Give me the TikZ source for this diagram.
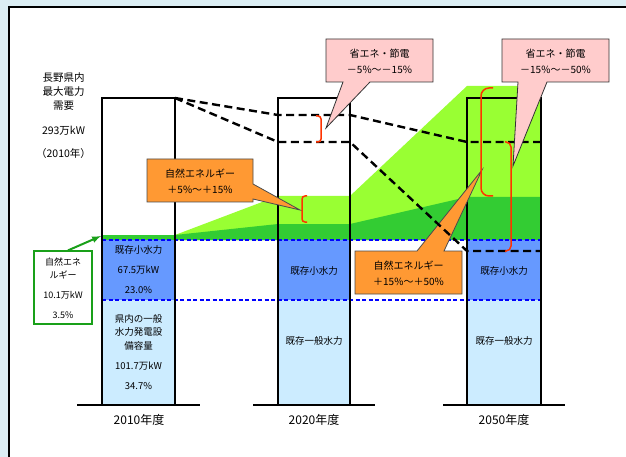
\documentclass[tikz,border=0pt]{standalone}
\usepackage{fontspec}
\setmainfont{Noto Sans CJK JP}
\usepackage{tikz}
\usetikzlibrary{arrows,positioning}
\definecolor{hybg}{RGB}{220,238,244}
\definecolor{hylightgreen}{RGB}{153,255,51}
\definecolor{hygreen}{RGB}{51,204,51}
\definecolor{hyline}{RGB}{25,160,25}
\definecolor{hyblue}{RGB}{102,153,255}
\definecolor{hylightblue}{RGB}{204,236,255}
\definecolor{hyorange}{RGB}{255,153,51}
\definecolor{hypink}{RGB}{255,204,204}
\definecolor{hyred}{RGB}{255,51,0}
\tikzstyle{bar} = [draw=black, line width=1.5pt]
\tikzstyle{groundline} = [line width=1.8pt]
\tikzstyle{bluedash} = [blue, line width=1.4pt, dash pattern=on 4pt off 2.5pt]
\tikzstyle{demand} = [line width=2.4pt, dash pattern=on 8pt off 4.5pt]
\tikzstyle{bracket} = [hyred, line width=1.5pt, rounded corners=3pt]
\tikzstyle{callpink} = [fill=hypink, draw=black!80, line width=0.8pt]
\tikzstyle{callorange} = [fill=hyorange, draw=black!70, line width=0.8pt]
\tikzstyle{txt} = [font=\fontsize{9.5}{13.5}\selectfont, text=black, align=center, inner sep=0pt]
\tikzstyle{calltxt} = [font=\fontsize{10}{16}\selectfont, text=black, align=center, inner sep=0pt]
\tikzstyle{year} = [font=\fontsize{12}{14}\selectfont, text=black]

\begin{document}
\begin{tikzpicture}[x=1pt, y=-1pt]
\useasboundingbox (0,0) rectangle (626,457);
% Background and panel
\fill[hybg] (0,0) rectangle (626,457);
\draw[fill=white, line width=1.2pt] (9,7) rectangle (640,470);

% Natural energy growth
\fill[hylightgreen] (175,235) -- (278,196) -- (350,196) -- (467,86) -- (541,86) -- (541,240) -- (175,240) -- cycle;
\fill[hygreen] (175,235) -- (278,224) -- (350,224) -- (467,197) -- (541,197) -- (541,240) -- (175,240) -- cycle;

% Bar fills
\fill[hygreen] (102,235) rectangle (175,240);
\fill[hyblue] (102,240) rectangle (175,300);
\fill[hylightblue] (102,300) rectangle (175,405);
\fill[hyblue] (278,240) rectangle (350,300);
\fill[hylightblue] (278,300) rectangle (350,405);
\fill[hyblue] (467,240) rectangle (541,300);
\fill[hylightblue] (467,300) rectangle (541,405);

% Hydro levels
\draw[bluedash] (102,240) -- (541,240);
\draw[bluedash] (102,300) -- (541,300);

% Bars
\draw[bar] (102,405) -- (102,98) -- (175,98) -- (175,405);
\draw[bar] (278,405) -- (278,98) -- (350,98) -- (350,405);
\draw[bar] (467,405) -- (467,98) -- (541,98) -- (541,405);
\draw[groundline] (77,405) -- (200,405);
\draw[groundline] (253,405) -- (375,405);
\draw[groundline] (443,405) -- (565,405);

% Year labels
\node[year] (y2010) at (139,420) {2010年度};
\node[year] (y2020) at (314,420) {2020年度};
\node[year] (y2050) at (504,420) {2050年度};

% Demand label
\node[txt, font=\fontsize{10.5}{14}\selectfont] (demand) at (63.5,116) {長野県内\\最大電力\\需要\\[11pt]293万kW\\[9pt]（2010年）};

% Texts in bars
\node[txt] (small2010) at (138.5,270) {既存小水力\\[6.5pt]67.5万kW\\[6.5pt]23.0\%};
\node[txt] (general2010) at (138.5,352) {県内の一般\\水力発電設\\備容量\\[6.5pt]101.7万kW\\[6.5pt]34.7\%};
\node[txt] (small2020) at (314,271) {既存小水力};
\node[txt] (general2020) at (314,341) {既存一般水力};
\node[txt] (small2050) at (504,271) {既存小水力};
\node[txt] (general2050) at (504,341) {既存一般水力};

% Natural energy 2010
\node[draw=hyline, fill=white, line width=1.2pt, minimum width=58pt, minimum height=73pt] (renew) at (63,287.5) {};
\node[txt, font=\fontsize{9}{13}\selectfont] (renewtxt) at (63,288.5) {自然エネ\\ルギー\\[7pt]10.1万kW\\[7pt]3.5\%};
\coordinate (strip) at (101,236);
\draw[hyline, line width=2pt, -latex] ([xshift=5pt]renew.north) -- (strip);

% Natural energy callouts
\draw[callorange] (355,251) -- (417,251) -- (482,170) -- (444,251) -- (462,251) -- (462,294) -- (355,294) -- cycle;
\node[calltxt] (renew2050) at (408.5,273) {自然エネルギー\\＋15\%～＋50\%};
\draw[callorange] (147,159) -- (253,159) -- (253,184) -- (300,210) -- (253,199) -- (253,202) -- (147,202) -- cycle;
\node[calltxt] (renew2020) at (200,181) {自然エネルギー\\＋5\%～＋15\%};

% Demand lines
\coordinate (d0) at (175,98);
\coordinate (a1) at (278,115);
\coordinate (a2) at (350,115);
\coordinate (a3) at (467,142);
\coordinate (a4) at (541,142);
\coordinate (b1) at (278,142);
\coordinate (b2) at (350,142);
\coordinate (b3) at (467,251);
\coordinate (b4) at (541,251);
\draw[demand] (d0) -- (a1) -- (a2) -- (a3) -- (a4);
\draw[demand] (d0) -- (b1) -- (b2) -- (b3) -- (b4);

% Brackets
\draw[bracket] (316,116) -- (321,116) -- (321,142) -- (316,142);
\draw[bracket] (307,196) -- (302,196) -- (302,222) -- (307,222);
\draw[bracket, rounded corners=8pt] (493,88) -- (481,88) -- (481,196) -- (493,196);
\draw[bracket, rounded corners=5pt] (505,142) -- (511,142) -- (511,251) -- (505,251);

% Saving callouts
\draw[callpink] (326,39) -- (433,39) -- (433,82) -- (370,82) -- (326,128) -- (343,82) -- (326,82) -- cycle;
\node[calltxt] (save2020) at (379.5,61) {省エネ・節電\\－5\%～－15\%};
\draw[callpink] (502,39) -- (609,39) -- (609,82) -- (547,82) -- (513,166) -- (518,82) -- (502,82) -- cycle;
\node[calltxt] (save2050) at (555.5,61) {省エネ・節電\\－15\%～－50\%};
\end{tikzpicture}
\end{document}
